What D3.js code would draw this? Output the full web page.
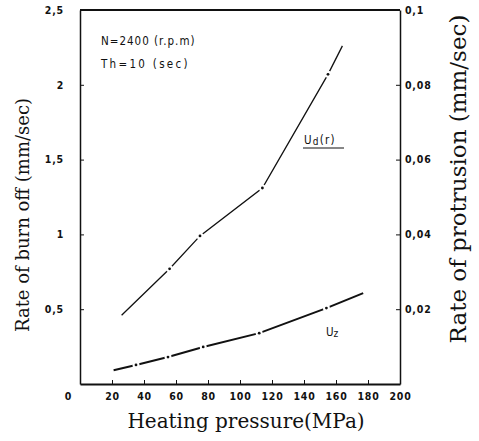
<!DOCTYPE html>
<html>
<head>
<meta charset="utf-8">
<script src="https://cdn.jsdelivr.net/npm/d3@7"></script>
<style>
  body { margin: 0; background: #fff; }
  .tick text { font-family: "DejaVu Sans Condensed", "DejaVu Sans", sans-serif; font-size: 10.5px; font-weight: bold; fill: #111; letter-spacing: 0.8px; }
  .axis path, .axis line { stroke: #111; }
  .title { font-family: "DejaVu Serif", serif; fill: #111; }
  .note { font-family: "DejaVu Sans Condensed", sans-serif; font-size: 11.5px; fill: #111; }
</style>
</head>
<body>
<div id="chart-area"></div>
<script>
/*
*    burn-off / protrusion chart
*/

// Data
var pressureUd = [26, 56, 75, 114, 155, 164];
var burnOff    = [0.46, 0.77, 0.99, 1.31, 2.07, 2.26];

var pressureUz = [21, 35, 55, 77, 112, 154, 177];
var protrusion = [0.0037, 0.0051, 0.0072, 0.0099, 0.0136, 0.0203, 0.0243];

var xTicks      = [0, 20, 40, 60, 80, 100, 120, 140, 160, 180, 200];
var leftTicks   = [0.5, 1, 1.5, 2, 2.5];
var rightTicks  = [0.02, 0.04, 0.06, 0.08, 0.1];

var margin = {top: 10, right: 79, bottom: 57, left: 80},
    width = 479 - margin.left - margin.right,
    height = 441 - margin.top - margin.bottom;

var svg = d3.select("#chart-area").append("svg")
    .attr("width", 479)
    .attr("height", 441);

var g = svg.append("g")
    .attr("transform", "translate(" + margin.left + "," + margin.top + ")");

// Scales
var x = d3.scaleLinear().domain([0, 200]).range([0, width]);
var yLeft = d3.scaleLinear().domain([0, 2.5]).range([height, 0]);
var yRight = d3.scaleLinear().domain([0, 0.1]).range([height, 0]);

var comma = function(d){ return String(d).replace(".", ","); };

// Axes
var xAxis = g.append("g")
    .attr("class", "axis")
    .attr("transform", "translate(0," + height + ")")
    .call(d3.axisBottom(x).tickValues(xTicks).tickSize(-4).tickPadding(9).tickSizeOuter(0));
xAxis.select(".domain").attr("stroke-width", 2);
xAxis.selectAll(".tick text").filter(function(d){ return d === 0; }).attr("dx", -12);

var yAxisL = g.append("g")
    .attr("class", "axis")
    .call(d3.axisLeft(yLeft).tickValues(leftTicks).tickSize(-4).tickPadding(16).tickSizeOuter(0).tickFormat(comma));
yAxisL.select(".domain").attr("stroke-width", 1.5);

var yAxisR = g.append("g")
    .attr("class", "axis")
    .attr("transform", "translate(" + width + ",0)")
    .call(d3.axisRight(yRight).tickValues(rightTicks).tickSize(-4).tickPadding(5).tickSizeOuter(0).tickFormat(comma));
yAxisR.select(".domain").attr("stroke-width", 1.5);

// top frame line
g.append("line")
    .attr("x1", 0).attr("x2", width)
    .attr("y1", 0).attr("y2", 0)
    .attr("stroke", "#111")
    .attr("stroke-width", 2);

// Axis titles
svg.append("text")
    .attr("class", "title")
    .attr("font-size", "20px")
    .attr("text-anchor", "middle")
    .attr("x", 246).attr("y", 428)
    .text("Heating pressure(MPa)");

svg.append("text")
    .attr("class", "title")
    .attr("font-family", "Liberation Serif, serif")
    .attr("font-size", "18px")
    .attr("text-anchor", "middle")
    .attr("transform", "translate(29,215) rotate(-90)")
    .text("Rate of burn off (mm/sec)");

svg.append("text")
    .attr("class", "title")
    .attr("font-size", "23px")
    .attr("text-anchor", "middle")
    .attr("transform", "translate(466,179) rotate(-90)")
    .text("Rate of protrusion (mm/sec)");

// Lines
function drawSeries(xs, ys, yScale, sw) {
    var pts = xs.map(function(v, i){ return [x(v), yScale(ys[i])]; });
    g.append("path")
        .attr("d", d3.line()(pts))
        .attr("fill", "none")
        .attr("stroke", "#111")
        .attr("stroke-width", sw);
    var inner = pts.slice(1, pts.length - 1);
    g.selectAll(null).data(inner).enter().append("circle")
        .attr("cx", function(d){ return d[0]; })
        .attr("cy", function(d){ return d[1]; })
        .attr("r", 3.5)
        .attr("fill", "#fff");
    g.selectAll(null).data(inner).enter().append("circle")
        .attr("cx", function(d){ return d[0]; })
        .attr("cy", function(d){ return d[1]; })
        .attr("r", 1.4)
        .attr("fill", "#111");
}

drawSeries(pressureUd, burnOff, yLeft, 1.3);
drawSeries(pressureUz, protrusion, yRight, 2);

// Labels
var ud = svg.append("text")
    .attr("class", "note")
    .attr("font-size", "12.5px")
    .attr("letter-spacing", "1.2px")
    .attr("x", 304).attr("y", 144);
ud.append("tspan").text("U");
ud.append("tspan").attr("font-size", "10px").attr("dy", 1).text("d");
ud.append("tspan").attr("dy", -1).text("(r)");
svg.append("line")
    .attr("x1", 303).attr("x2", 344)
    .attr("y1", 148).attr("y2", 148)
    .attr("stroke", "#111").attr("stroke-width", 1.2);

var uz = svg.append("text")
    .attr("class", "note")
    .attr("font-size", "12.5px")
    .attr("x", 326).attr("y", 336);
uz.append("tspan").text("U");
uz.append("tspan").attr("font-size", "10px").attr("dy", 1).text("z");

svg.append("text").attr("class", "note").attr("letter-spacing", "1px")
    .attr("x", 101).attr("y", 45).text("N=2400 (r.p.m)");
svg.append("text").attr("class", "note").attr("letter-spacing", "2.3px")
    .attr("x", 101).attr("y", 68).text("Th=10 (sec)");
</script>
</body>
</html>
